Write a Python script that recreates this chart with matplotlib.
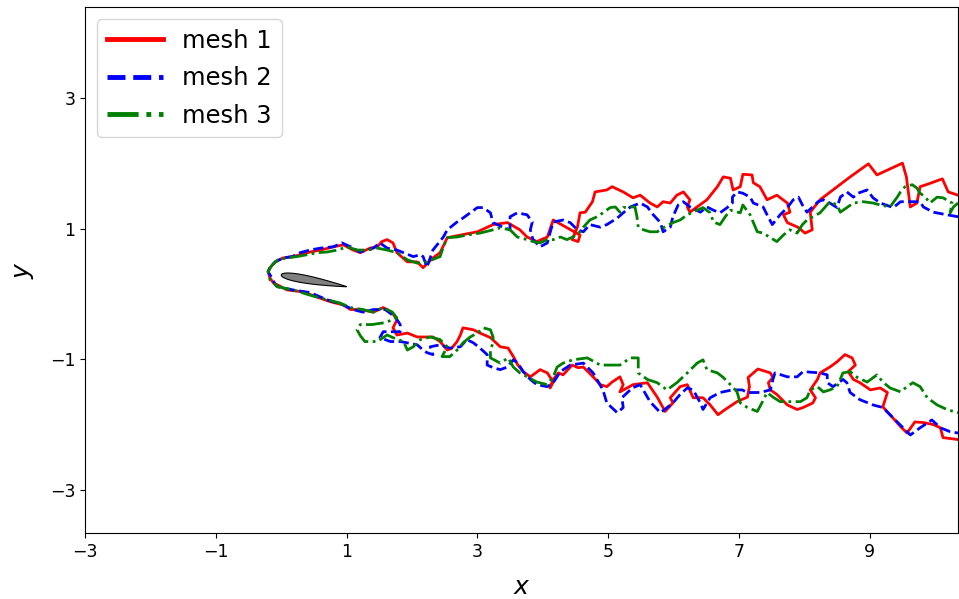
import matplotlib.pyplot as plt
import numpy as np

# mesh 1: upper edge (right -> nose) then lower edge (nose -> right)
mesh1_x = [10.35, 10.20, 10.11, 9.89, 9.77, 9.72, 9.62, 9.56, 9.50, 9.11, 8.98, 8.70, 8.24, 8.09,
           8.12, 8.01, 7.90, 7.74, 7.68, 7.78, 7.74, 7.58, 7.43, 7.32, 7.22, 7.20, 7.06, 7.02,
           6.91, 6.87, 6.76, 6.67, 6.51, 6.36, 6.25, 6.21, 6.25, 6.15, 6.05, 5.95, 5.84, 5.75,
           5.64, 5.49, 5.38, 5.23, 5.06, 4.98, 4.80, 4.76, 4.65, 4.57, 4.53, 4.45, 4.54, 4.57,
           4.16, 4.07, 3.91, 3.76, 3.65, 3.46, 3.24, 3.00, 2.74, 2.54, 2.43, 2.32, 2.17, 2.08,
           1.93, 1.77, 1.71, 1.62, 1.54, 1.47, 1.36, 1.21, 1.10, 0.95, 0.80, 0.60, 0.44, 0.29,
           0.18, 0.03, -0.09, -0.17, -0.20, -0.17, -0.12,
           0.09, 0.34, 0.55, 0.75, 0.95, 1.06, 1.21, 1.41, 1.56, 1.70, 1.77, 1.71, 1.77, 1.93,
           2.08, 2.23, 2.32, 2.43, 2.54, 2.61, 2.69, 2.74, 2.78, 2.94, 3.04, 3.20, 3.35, 3.47,
           3.55, 3.62, 3.70, 3.81, 3.96, 4.07, 4.16, 4.11, 4.16, 4.24, 4.31, 4.45, 4.54, 4.62,
           4.77, 4.88, 4.98, 5.06, 5.18, 5.23, 5.18, 5.38, 5.60, 5.75, 5.80, 5.87, 5.99, 5.95,
           6.10, 6.21, 6.30, 6.45, 6.56, 6.68, 6.79, 6.97, 7.13, 7.16, 7.14, 7.29, 7.48, 7.52,
           7.45, 7.48, 7.58, 7.74, 7.89, 7.98, 8.13, 8.17, 8.09, 8.20, 8.24, 8.39, 8.50, 8.62,
           8.73, 8.78, 8.67, 8.75, 8.85, 9.01, 9.16, 9.27, 9.20, 9.31, 9.47, 9.57, 9.69, 9.82,
           9.97, 10.08, 10.12, 10.35]
mesh1_y = [1.51, 1.56, 1.76, 1.68, 1.64, 1.39, 1.33, 1.79, 2.00, 1.82, 1.99, 1.79, 1.44, 1.25,
           0.98, 0.93, 1.02, 1.09, 1.21, 1.25, 1.39, 1.51, 1.44, 1.64, 1.70, 1.82, 1.83, 1.64,
           1.59, 1.77, 1.79, 1.64, 1.44, 1.33, 1.25, 1.33, 1.44, 1.56, 1.51, 1.39, 1.41, 1.33,
           1.39, 1.51, 1.47, 1.56, 1.64, 1.59, 1.56, 1.41, 1.25, 1.24, 1.02, 0.83, 0.80, 0.90,
           1.13, 0.87, 0.80, 0.87, 0.98, 1.09, 1.06, 0.95, 0.90, 0.86, 0.63, 0.55, 0.40, 0.49,
           0.49, 0.63, 0.78, 0.83, 0.80, 0.72, 0.70, 0.63, 0.67, 0.75, 0.72, 0.67, 0.64, 0.60,
           0.57, 0.55, 0.49, 0.40, 0.34, 0.24, 0.17,
           0.06, 0.03, -0.05, -0.12, -0.17, -0.24, -0.24, -0.28, -0.21, -0.29, -0.40, -0.52, -0.63, -0.60,
           -0.66, -0.66, -0.66, -0.73, -0.86, -0.83, -0.73, -0.63, -0.52, -0.55, -0.60, -0.67, -0.81, -0.83,
           -0.96, -1.09, -1.19, -1.27, -1.16, -1.21, -1.35, -1.44, -1.31, -1.21, -1.24, -1.09, -1.13, -1.12,
           -1.27, -1.39, -1.42, -1.35, -1.27, -1.39, -1.50, -1.39, -1.36, -1.58, -1.67, -1.80, -1.67, -1.59,
           -1.42, -1.39, -1.59, -1.59, -1.70, -1.85, -1.77, -1.65, -1.58, -1.42, -1.28, -1.15, -1.21, -1.28,
           -1.36, -1.47, -1.54, -1.70, -1.77, -1.74, -1.67, -1.59, -1.47, -1.31, -1.21, -1.12, -1.04, -0.93,
           -0.98, -1.09, -1.19, -1.31, -1.36, -1.47, -1.44, -1.51, -1.73, -1.85, -2.03, -2.13, -1.96, -1.97,
           -2.00, -2.05, -2.20, -2.23]

# mesh 2
mesh2_x = [10.35, 10.18, 9.97, 9.82, 9.77, 9.62, 9.47, 9.36, 9.16, 9.05, 8.96, 8.82, 8.75, 8.65,
           8.55, 8.50, 8.39, 8.29, 8.21, 8.04, 7.97, 7.91, 7.83, 7.74, 7.63, 7.51, 7.43, 7.37,
           7.22, 7.17, 7.06, 6.97, 6.90, 6.90, 6.82, 6.71, 6.61, 6.51, 6.41, 6.25, 6.15, 6.07,
           5.99, 5.95, 5.84, 5.80, 5.69, 5.60, 5.49, 5.34, 5.23, 5.14, 4.98, 4.88, 4.72, 4.62,
           4.53, 4.42, 4.31, 4.16, 4.11, 4.07, 3.96, 3.85, 3.81, 3.84, 3.76, 3.61, 3.50, 3.50,
           3.39, 3.24, 3.20, 3.09, 3.00, 2.89, 2.78, 2.69, 2.54, 2.48, 2.32, 2.23, 2.17, 2.13,
           2.02, 1.87, 1.77, 1.62, 1.51, 1.41, 1.21, 1.06, 0.93, 0.80, 0.60, 0.44, 0.29, 0.17,
           0.03, -0.09, -0.17, -0.20, -0.14, -0.09,
           -0.06, 0.18, 0.44, 0.70, 0.95, 1.10, 1.25, 1.41, 1.59, 1.74, 1.82, 1.82, 1.70, 1.56,
           1.51, 1.67, 1.82, 1.93, 2.08, 2.17, 2.23, 2.32, 2.28, 2.43, 2.58, 2.74, 2.84, 2.94,
           3.04, 3.15, 3.15, 3.24, 3.35, 3.46, 3.55, 3.62, 3.70, 3.81, 3.91, 4.07, 4.16, 4.27,
           4.42, 4.62, 4.77, 4.92, 4.98, 5.14, 5.23, 5.21, 5.37, 5.49, 5.64, 5.80, 5.90, 5.99,
           6.10, 6.21, 6.30, 6.41, 6.45, 6.56, 6.71, 6.90, 7.05, 7.13, 7.32, 7.48, 7.52, 7.55,
           7.74, 7.89, 7.98, 8.24, 8.35, 8.35, 8.44, 8.59, 8.65, 8.70, 8.85, 9.05, 9.20, 9.36,
           9.51, 9.62, 9.77, 9.95, 10.08, 10.23, 10.35]
mesh2_y = [1.18, 1.21, 1.25, 1.33, 1.41, 1.41, 1.41, 1.32, 1.39, 1.47, 1.59, 1.54, 1.48, 1.56,
           1.48, 1.32, 1.39, 1.44, 1.41, 1.25, 1.36, 1.48, 1.44, 1.32, 1.21, 1.06, 1.21, 1.33,
           1.39, 1.48, 1.54, 1.56, 1.48, 1.39, 1.32, 1.24, 1.28, 1.33, 1.25, 1.33, 1.41, 1.36,
           1.18, 1.02, 0.95, 1.09, 1.21, 1.33, 1.39, 1.33, 1.24, 1.16, 1.06, 1.02, 1.06, 0.95,
           0.98, 1.09, 1.13, 1.10, 0.93, 0.78, 0.72, 0.83, 0.98, 1.10, 1.21, 1.24, 1.18, 0.98,
           1.02, 1.09, 1.24, 1.32, 1.32, 1.24, 1.16, 1.10, 0.98, 0.87, 0.67, 0.41, 0.57, 0.60,
           0.57, 0.63, 0.67, 0.70, 0.78, 0.70, 0.64, 0.72, 0.78, 0.72, 0.70, 0.67, 0.63, 0.57,
           0.55, 0.49, 0.41, 0.34, 0.24, 0.14,
           0.11, 0.06, 0.02, -0.09, -0.17, -0.24, -0.28, -0.24, -0.24, -0.35, -0.47, -0.58, -0.58, -0.58,
           -0.67, -0.73, -0.73, -0.75, -0.78, -0.86, -0.90, -0.93, -0.81, -0.78, -0.83, -0.81, -0.70, -0.75,
           -0.83, -0.93, -1.09, -1.13, -1.16, -1.12, -1.01, -1.06, -1.19, -1.31, -1.39, -1.42, -1.36, -1.19,
           -1.09, -1.06, -1.21, -1.47, -1.67, -1.82, -1.74, -1.59, -1.44, -1.39, -1.65, -1.82, -1.74, -1.67,
           -1.54, -1.44, -1.47, -1.67, -1.77, -1.59, -1.51, -1.47, -1.47, -1.51, -1.51, -1.47, -1.31, -1.21,
           -1.27, -1.27, -1.19, -1.21, -1.24, -1.36, -1.42, -1.31, -1.36, -1.51, -1.62, -1.70, -1.74, -1.90,
           -2.05, -2.16, -2.05, -1.93, -2.05, -2.11, -2.13]

# mesh 3
mesh3_x = [10.35, 10.28, 10.23, 10.26, 10.12, 10.03, 9.92, 9.85, 9.77, 9.72, 9.65, 9.54, 9.47, 9.42,
           9.31, 9.16, 9.05, 8.90, 8.75, 8.65, 8.55, 8.50, 8.39, 8.32, 8.24, 8.13, 8.04, 7.97,
           7.89, 7.78, 7.68, 7.58, 7.48, 7.37, 7.28, 7.22, 7.17, 7.06, 7.02, 6.87, 6.79, 6.71,
           6.61, 6.56, 6.45, 6.36, 6.21, 6.10, 5.99, 5.84, 5.75, 5.64, 5.54, 5.46, 5.44, 5.41,
           5.31, 5.23, 5.18, 5.11, 5.03, 4.92, 4.83, 4.72, 4.62, 4.57, 4.46, 4.37, 4.27, 4.16,
           4.07, 3.96, 3.85, 3.76, 3.61, 3.50, 3.35, 3.24, 3.04, 2.84, 2.69, 2.54, 2.48, 2.43,
           2.23, 2.08, 1.93, 1.77, 1.62, 1.47, 1.32, 1.16, 1.01, 0.86, 0.70, 0.55, 0.40, 0.24,
           0.09, -0.05, -0.14, -0.20, -0.17, -0.09,
           -0.06, 0.18, 0.44, 0.70, 0.90, 1.06, 1.25, 1.41, 1.56, 1.70, 1.77, 1.59, 1.39, 1.21,
           1.16, 1.21, 1.28, 1.47, 1.62, 1.71, 1.87, 1.93, 2.02, 2.13, 2.28, 2.43, 2.54, 2.46,
           2.58, 2.69, 2.78, 2.89, 3.00, 3.09, 3.20, 3.24, 3.24, 3.20, 3.20, 3.35, 3.47, 3.55,
           3.65, 3.76, 3.91, 4.07, 4.16, 4.22, 4.31, 4.46, 4.68, 4.88, 5.18, 5.34, 5.46, 5.46,
           5.60, 5.75, 5.90, 6.05, 6.21, 6.36, 6.45, 6.51, 6.67, 6.76, 6.87, 6.97, 7.02, 7.13,
           7.28, 7.35, 7.43, 7.52, 7.63, 7.78, 7.94, 8.04, 8.09, 8.20, 8.29, 8.39, 8.50, 8.59,
           8.70, 8.81, 8.96, 9.11, 9.20, 9.31, 9.47, 9.57, 9.66, 9.77, 9.88, 10.03, 10.18, 10.35]
mesh3_y = [1.39, 1.33, 1.24, 1.39, 1.47, 1.48, 1.39, 1.48, 1.54, 1.62, 1.67, 1.64, 1.56, 1.48,
           1.33, 1.36, 1.39, 1.41, 1.39, 1.32, 1.25, 1.36, 1.41, 1.33, 1.24, 1.18, 1.13, 1.06,
           0.93, 0.98, 0.90, 0.80, 0.86, 0.93, 0.95, 1.09, 1.21, 1.36, 1.24, 1.28, 1.18, 1.06,
           1.10, 1.24, 1.32, 1.28, 1.21, 1.13, 1.09, 1.01, 0.95, 0.95, 0.98, 1.02, 1.18, 1.33,
           1.33, 1.32, 1.25, 1.33, 1.32, 1.24, 1.18, 1.13, 1.02, 0.95, 0.87, 0.83, 0.87, 0.83,
           0.83, 0.78, 0.80, 0.83, 0.87, 0.98, 1.01, 0.98, 0.93, 0.90, 0.87, 0.86, 0.72, 0.57,
           0.49, 0.47, 0.52, 0.63, 0.67, 0.70, 0.67, 0.67, 0.72, 0.67, 0.64, 0.63, 0.60, 0.57,
           0.55, 0.52, 0.44, 0.34, 0.21, 0.14,
           0.11, 0.06, -0.02, -0.09, -0.14, -0.21, -0.24, -0.28, -0.21, -0.28, -0.37, -0.44, -0.47, -0.47,
           -0.55, -0.64, -0.73, -0.73, -0.63, -0.67, -0.73, -0.86, -0.81, -0.70, -0.66, -0.70, -0.81, -0.96,
           -0.96, -0.86, -0.75, -0.66, -0.60, -0.52, -0.55, -0.66, -0.75, -0.86, -0.98, -1.06, -0.98, -1.12,
           -1.21, -1.27, -1.35, -1.39, -1.27, -1.12, -1.06, -1.01, -0.98, -1.09, -1.09, -0.98, -0.98, -1.21,
           -1.31, -1.36, -1.47, -1.36, -1.21, -1.06, -1.01, -1.16, -1.21, -1.28, -1.39, -1.50, -1.67, -1.74,
           -1.80, -1.67, -1.51, -1.58, -1.65, -1.65, -1.65, -1.59, -1.47, -1.42, -1.50, -1.47, -1.42, -1.21,
           -1.19, -1.28, -1.35, -1.24, -1.35, -1.44, -1.50, -1.42, -1.36, -1.42, -1.59, -1.70, -1.77, -1.82]

# NACA 0012 section (half thickness / chord)
foil_s = [0, 0.0125, 0.025, 0.05, 0.075, 0.1, 0.15, 0.2, 0.3, 0.4, 0.5, 0.6, 0.7, 0.8, 0.9, 0.95, 1.0]
foil_t = [0, 0.01894, 0.02615, 0.03555, 0.04200, 0.04683, 0.05345, 0.05737, 0.06002, 0.05803,
          0.05294, 0.04563, 0.03664, 0.02623, 0.01448, 0.00807, 0.00126]
lead_edge = (0.0, 0.29)
trail_edge = (1.0, 0.11)

plt.figure(figsize=(9.59, 5.99), dpi=100)
ax = plt.axes([0.0886, 0.1102, 0.9104, 0.8781])

ax.plot(mesh1_x, mesh1_y, 'r-', lw=2, label='mesh 1')
ax.plot(mesh2_x, mesh2_y, 'b--', lw=2, label='mesh 2')
ax.plot(mesh3_x, mesh3_y, 'g-.', lw=2, label='mesh 3')

# airfoil
s = np.array(foil_s)
t = np.array(foil_t)
px = np.concatenate([s, s[::-1]])
py = np.concatenate([t, -t[::-1]])
ang = np.arctan2(trail_edge[1] - lead_edge[1], trail_edge[0] - lead_edge[0])
chord = np.hypot(trail_edge[0] - lead_edge[0], trail_edge[1] - lead_edge[1])
fx = lead_edge[0] + chord * (px * np.cos(ang) - py * np.sin(ang))
fy = lead_edge[1] + chord * (px * np.sin(ang) + py * np.cos(ang))
ax.fill(fx, fy, facecolor='grey', edgecolor='black', lw=0.8, zorder=3)

ax.set_xlim(-3, 10.35)
ax.set_ylim(-3.66, 4.39)
ax.set_xticks([-3, -1, 1, 3, 5, 7, 9])
ax.set_yticks([-3, -1, 1, 3])
ax.tick_params(labelsize=12.5)
ax.set_xlabel('$x$', fontsize=18, labelpad=10)
ax.set_ylabel('$y$', fontsize=18, labelpad=10)

leg = ax.legend(loc='upper left', fontsize=17.5, handlelength=2.3, labelspacing=0.55)
for line in leg.get_lines():
    line.set_linewidth(3.5)

plt.savefig('out.png', dpi=100)
